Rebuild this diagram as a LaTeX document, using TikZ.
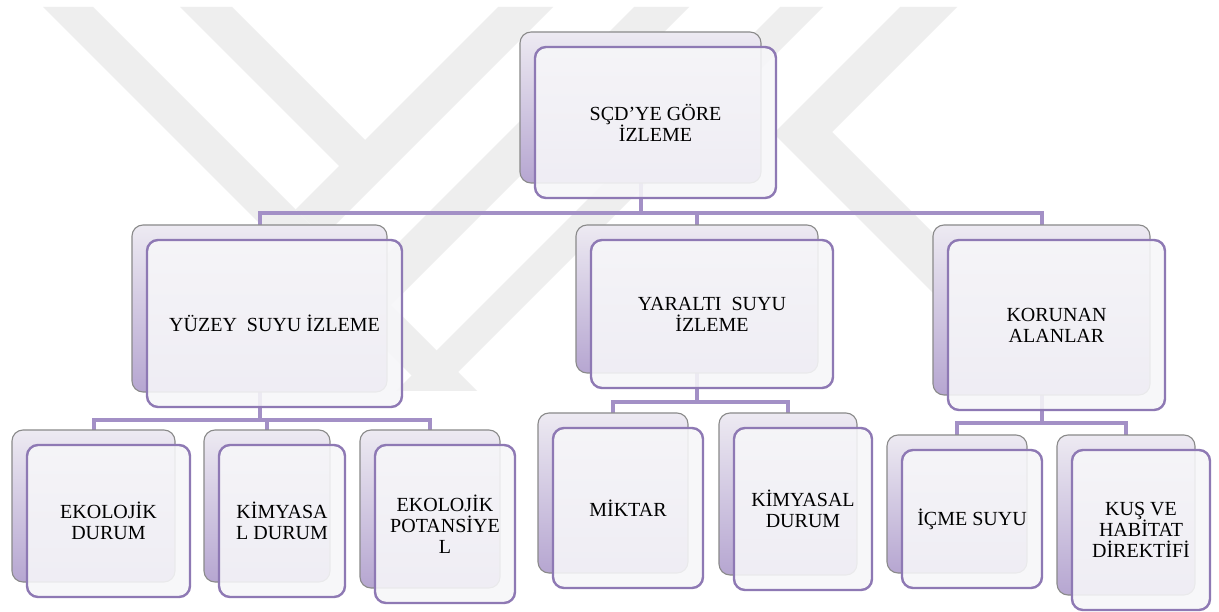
\documentclass[tikz,border=0pt]{standalone}
\usepackage{fontspec}
\setmainfont{Liberation Serif}
\usetikzlibrary{backgrounds}
\definecolor{connc}{HTML}{A390C6}
\definecolor{frontline}{HTML}{8E79B4}
\definecolor{frontfill}{HTML}{F7F7F9}
\definecolor{backline}{HTML}{8A8A8A}
\definecolor{backtop}{HTML}{EDEAF2}
\definecolor{backbot}{HTML}{B6A6D1}
\definecolor{wmark}{HTML}{EEEEEE}
\tikzset{
  backbox/.style={draw=backline, line width=1.1pt, top color=backtop, bottom color=backbot,
    rounded corners=11pt, inner sep=0pt, outer sep=0pt},
  frontbox/.style={draw=frontline, line width=2.4pt, fill=frontfill, fill opacity=0.88,
    text opacity=1, draw opacity=1, rounded corners=11pt, inner sep=2pt, outer sep=0pt,
    align=center, font=\fontsize{20}{21}\selectfont},
  connector/.style={draw=connc, line width=4pt, line join=miter},
  wm/.style={fill=wmark}
}
\newcommand\cardpair[6]{%
  \node[backbox, minimum width={#4-#2}, minimum height={#5-#3}] (#1b) at ({(#2+#4)/2-15},{(#3+#5)/2-15}) {};
  \node[frontbox, minimum width={#4-#2}, minimum height={#5-#3}] (#1) at ({(#2+#4)/2},{(#3+#5)/2}) {#6};
}
\begin{document}
\begin{tikzpicture}[x=1pt,y=-1pt]
\useasboundingbox (0,0) rectangle (1219,612);
% cards
\cardpair{top}{535}{47}{776}{198}{SÇD’YE GÖRE\\İZLEME}
\cardpair{yuzey}{147}{240}{402}{407}{YÜZEY\ \ SUYU İZLEME}
\cardpair{yeralti}{591}{240}{833}{388}{YARALTI\ \ SUYU\\İZLEME}
\cardpair{korunan}{948}{240}{1165}{410}{KORUNAN\\ALANLAR}
\cardpair{ekodurum}{27}{445}{190}{597}{EKOLOJİK\\DURUM}
\cardpair{kimya}{219}{445}{345}{597}{KİMYASA\\L DURUM}
\cardpair{ekopot}{375}{445}{515}{603}{EKOLOJİK\\POTANSİYE\\L}
\cardpair{miktar}{553}{428}{703}{588}{MİKTAR}
\cardpair{kimyb}{734}{428}{872}{590}{KİMYASAL\\DURUM}
\cardpair{icme}{902}{450}{1042}{588}{İÇME SUYU}
\cardpair{kus}{1072}{450}{1210}{610}{KUŞ VE\\HABİTAT\\DİREKTİFİ}
\begin{pgfonlayer}{background}
\fill[white] (0,0) rectangle (1219,612);
% watermark
\fill[wm] (43,7) -- (93,7) -- (477,391) -- (427,391) -- cycle;
\fill[wm] (180,7) -- (339,166) -- (295.5,209.5) -- (323,237) -- (553,7) -- (498,7) -- (365,140) -- (232,7) -- cycle;
\fill[wm] (634,7) -- (689,7) -- (305,391) -- (250,391) -- cycle;
\fill[wm] (780,7) -- (823,7) -- (439,391) -- (396,391) -- cycle;
\fill[wm] (900,7) -- (957,7) -- (832,132) -- (1091,391) -- (1031,391) -- (773.5,133.5) -- cycle;
% connectors
\draw[connector] (topb.south) -- ++(0,30) -| (yuzeyb.north);
\draw[connector] (topb.south) -- ++(0,30) -| (yeraltib.north);
\draw[connector] (topb.south) -- ++(0,30) -| (korunanb.north);
\draw[connector] (yuzeyb.south) -- ++(0,28) -| (ekodurumb.north);
\draw[connector] (yuzeyb.south) -- ++(0,28) -| (kimyab.north);
\draw[connector] (yuzeyb.south) -- ++(0,28) -| (ekopotb.north);
\draw[connector] (yeraltib.south) -- ++(0,29) -| (miktarb.north);
\draw[connector] (yeraltib.south) -- ++(0,29) -| (kimybb.north);
\draw[connector] (korunanb.south) -- ++(0,28) -| (icmeb.north);
\draw[connector] (korunanb.south) -- ++(0,28) -| (kusb.north);
\end{pgfonlayer}
\end{tikzpicture}
\end{document}
